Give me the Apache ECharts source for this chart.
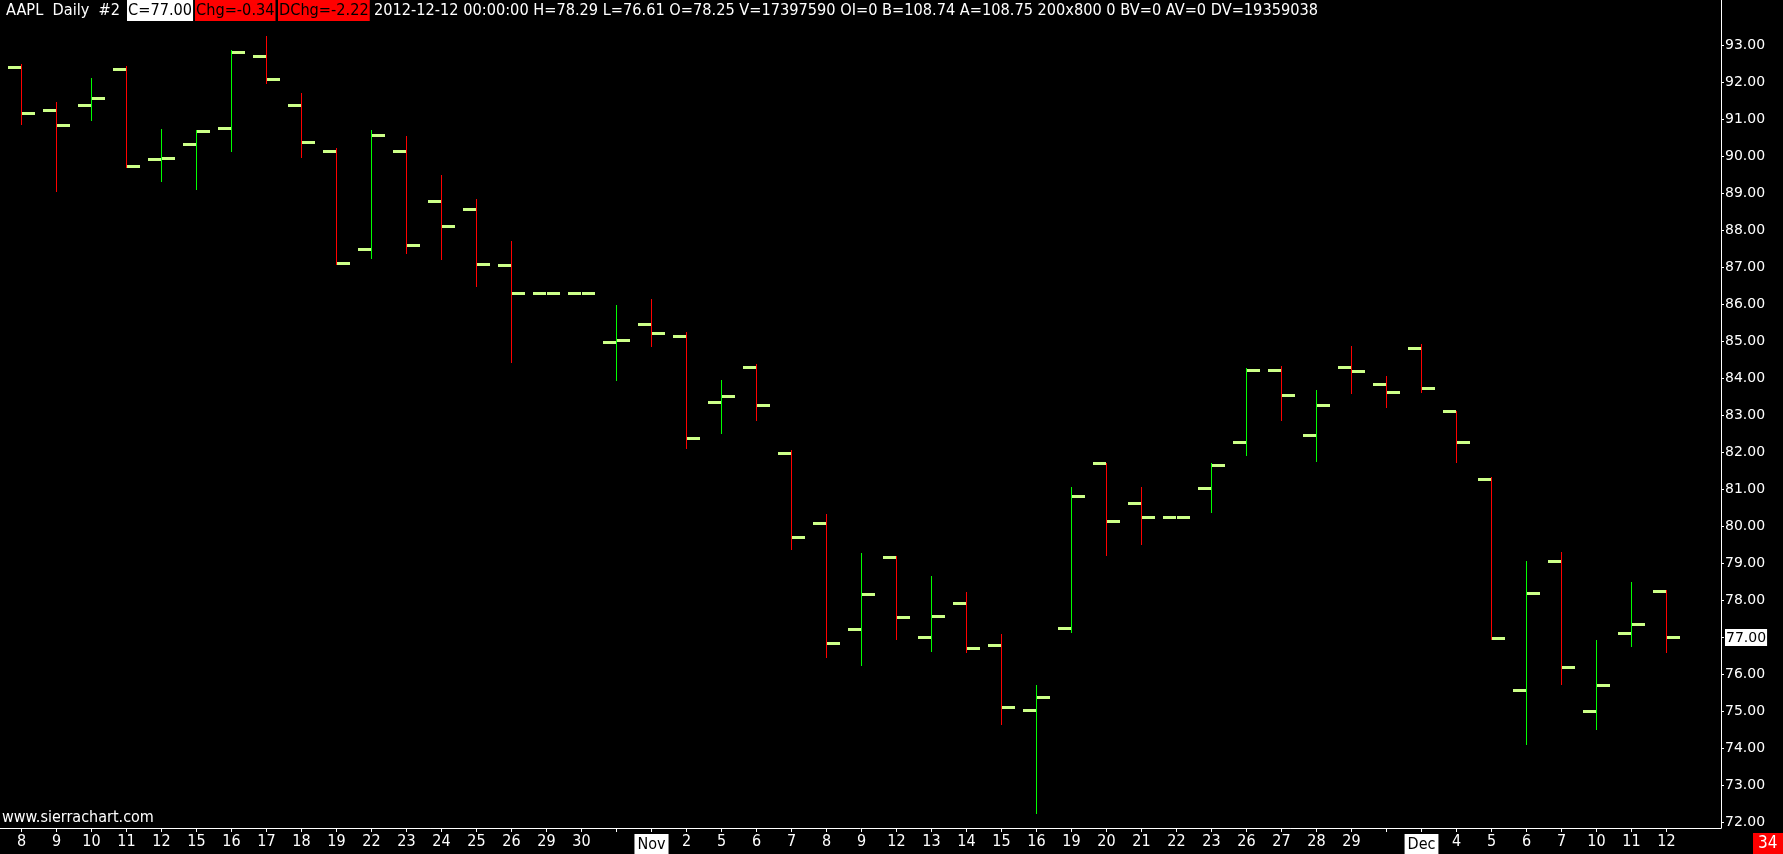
<!DOCTYPE html>
<html><head><meta charset="utf-8">
<script src="https://cdn.jsdelivr.net/npm/echarts@6/dist/echarts.min.js"></script>
<style>html,body{margin:0;padding:0;background:#000;overflow:hidden}#c{width:1783px;height:854px;}</style>
</head><body><div id="c"></div>
<script>
// ---- data (AAPL daily) ----
const dates = ['2012-10-08','2012-10-09','2012-10-10','2012-10-11','2012-10-12','2012-10-15','2012-10-16','2012-10-17','2012-10-18','2012-10-19',
  '2012-10-22','2012-10-23','2012-10-24','2012-10-25','2012-10-26','2012-10-29','2012-10-30','2012-10-31',
  '2012-11-01','2012-11-02','2012-11-05','2012-11-06','2012-11-07','2012-11-08','2012-11-09','2012-11-12','2012-11-13','2012-11-14','2012-11-15','2012-11-16',
  '2012-11-19','2012-11-20','2012-11-21','2012-11-22','2012-11-23','2012-11-26','2012-11-27','2012-11-28','2012-11-29','2012-11-30',
  '2012-12-03','2012-12-04','2012-12-05','2012-12-06','2012-12-07','2012-12-10','2012-12-11','2012-12-12'];
const tickLabels = ['8','9','10','11','12','15','16','17','18','19','22','23','24','25','26','29','30','',
  'Nov','2','5','6','7','8','9','12','13','14','15','16','19','20','21','22','23','26','27','28','29','',
  'Dec','4','5','6','7','10','11','12'];
const opens  = [92.41,91.24,91.38,92.35,89.93,90.33,90.76,92.70,91.37,90.15,87.48,90.13,88.78,88.56,87.06,86.29,86.29,84.98,
  85.45,85.13,83.36,84.31,81.98,80.09,77.21,79.16,77.00,77.92,76.79,75.03,77.24,81.70,80.61,80.24,81.02,82.27,84.22,82.47,84.31,83.83,
  84.80,83.11,81.27,75.56,79.06,75.00,77.11,78.25];
const highs  = [92.51,91.49,92.14,92.46,90.76,90.73,92.89,93.25,91.72,90.24,90.73,90.56,89.51,88.86,87.71,86.29,86.29,85.99,
  86.14,85.26,83.97,84.39,82.08,80.33,79.27,79.21,78.65,78.22,77.08,75.72,81.07,81.71,81.06,80.24,81.71,84.29,84.35,83.69,84.89,84.07,
  84.94,83.11,81.33,79.06,79.31,76.94,78.51,78.29];
const lows   = [90.87,89.08,91.00,89.72,89.33,89.12,90.14,92.00,90.00,87.09,87.26,87.39,87.23,86.51,84.44,86.29,86.29,83.96,
  84.88,82.11,82.52,82.88,79.39,76.48,76.25,76.95,76.63,76.61,74.67,72.26,77.14,79.23,79.52,80.24,80.38,81.94,82.88,81.76,83.61,83.24,
  83.64,81.74,76.97,74.11,75.73,74.52,76.78,76.61];
const closes = [91.17,90.84,91.56,89.72,89.95,90.67,92.82,92.08,90.37,87.12,90.57,87.61,88.12,87.07,86.29,86.29,86.29,85.04,
  85.22,82.39,83.52,83.26,79.71,76.83,78.16,77.55,77.57,76.70,75.10,75.38,80.82,80.13,80.24,80.24,81.64,84.22,83.54,83.28,84.19,83.61,
  83.74,82.26,76.97,78.18,76.18,75.69,77.34,77.00];
const priceTicks = [72,73,74,75,76,77,78,79,80,81,82,83,84,85,86,87,88,89,90,91,92,93];
const lastPrice = 77.00;

const FONT_N = "'Liberation Sans Narrow','Arial Narrow','DejaVu Sans Condensed',sans-serif";
const FONT_Y = "'DejaVu Sans',Verdana,sans-serif";
const TICK_C = '#ccff88';

const data = dates.map((d, i) => [i, opens[i], closes[i], lows[i], highs[i]]);
const labelIdx = tickLabels.map((t, i) => t ? i : -1).filter(i => i >= 0);
const tickIdx = dates.map((d, i) => i);

function renderItem(params, api) {
  const i = api.value(0), o = api.value(1), c = api.value(2), l = api.value(3), h = api.value(4);
  const pO = api.coord([i, o]);
  const cx = Math.floor(pO[0]);
  const yO = pO[1], yC = api.coord([i, c])[1], yL = api.coord([i, l])[1], yH = api.coord([i, h])[1];
  const col = c > o ? '#00ff00' : '#ff0000';
  const ch = [];
  ch.push({type:'rect', shape:{x:cx-13, y:Math.round(yO-1.5), width:13, height:3}, style:{fill:TICK_C}});
  ch.push({type:'rect', shape:{x:cx+1, y:Math.round(yC-1.5), width:13, height:3}, style:{fill:TICK_C}});
  if (yL - yH > 0.5) {
    const t = Math.round(yH), b = Math.round(yL);
    ch.push({type:'rect', shape:{x:cx, y:t, width:1, height:b-t+1}, style:{fill:col}});
  }
  return {type:'group', children: ch};
}

const chart = echarts.init(document.getElementById('c'), null, {renderer:'canvas'});
chart.setOption({
  backgroundColor:'#000',
  animation:false,
  grid:{left:0, right:62, top:0, bottom:26, containLabel:false, outerBoundsMode:'none'},
  xAxis:{type:'value', min:-0.6143, max:48.557,
    axisLine:{show:true, onZero:false, lineStyle:{color:'#ffffff', width:1}},
    axisTick:{show:true, length:4, customValues:tickIdx, lineStyle:{color:'#ffffff'}},
    axisLabel:{customValues:labelIdx, color:'#ffffff', fontFamily:FONT_N, fontSize:16, margin:6, hideOverlap:false,
      formatter:v => { const t = tickLabels[Math.round(v)]; return (t==='Nov'||t==='Dec') ? '{b|'+t+'}' : t; },
      rich:{b:{backgroundColor:'#ffffff', color:'#000000', fontFamily:FONT_N, fontSize:16, padding:[3,3,2,3]}}},
    splitLine:{show:false}},
  yAxis:{type:'value', position:'right', min:71.8459, max:94.2358,
    axisLine:{show:true, onZero:false, lineStyle:{color:'#ffffff', width:1}},
    axisTick:{show:true, length:3, customValues:priceTicks, lineStyle:{color:'#ffffff'}},
    axisLabel:{customValues:priceTicks, color:'#ffffff', fontFamily:FONT_Y, fontSize:14, margin:4, align:'left', hideOverlap:false,
      formatter:v => Math.abs(v-lastPrice)<1e-6 ? '{b|'+v.toFixed(2)+'}' : v.toFixed(2),
      rich:{b:{backgroundColor:'#ffffff', color:'#000000', fontFamily:FONT_Y, fontSize:14, padding:[2,1,1,1]}}},
    splitLine:{show:false}},
  series:[{type:'custom', renderItem, data, encode:{x:0, y:[1,2,3,4]}, clip:false}],
  graphic:[
    {type:'text', left:6, top:3, style:{text:'AAPL  Daily  #2', fill:'#fff', font:"16.2px "+FONT_N}},
    {type:'text', left:127, top:0, style:{text:'C=77.00', fill:'#000', backgroundColor:'#fff', padding:[3,1,2,1], font:"16.2px "+FONT_N}},
    {type:'text', left:195, top:0, style:{text:'Chg=-0.34', fill:'#000', backgroundColor:'#ff0000', padding:[3,1,2,1], font:"16.2px "+FONT_N}},
    {type:'text', left:278, top:0, style:{text:'DChg=-2.22', fill:'#000', backgroundColor:'#ff0000', padding:[3,1,2,1], font:"16.2px "+FONT_N}},
    {type:'text', left:374, top:3, style:{text:'2012-12-12 00:00:00 H=78.29 L=76.61 O=78.25 V=17397590 OI=0 B=108.74 A=108.75 200x800 0 BV=0 AV=0 DV=19359038', fill:'#fff', font:"16.2px "+FONT_N}},
    {type:'text', left:2, top:810, style:{text:'www.sierrachart.com', fill:'#fff', font:"16px "+FONT_N}},
    {type:'rect', left:1753, top:833, shape:{width:30, height:21}, style:{fill:'#ff0000'}},
    {type:'text', left:1758, top:835, style:{text:'34', fill:'#fff', font:"17px "+FONT_N}}
  ]
});
</script></body></html>
